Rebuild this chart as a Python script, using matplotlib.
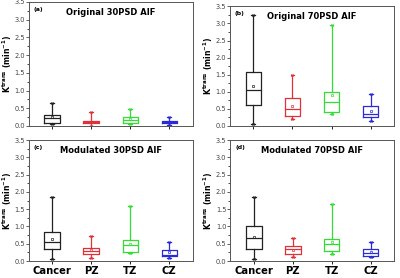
import numpy as np
import matplotlib.pyplot as plt

categories = ['Cancer', 'PZ', 'TZ', 'CZ']
colors = ['#222222', '#e0303a', '#33dd33', '#2a2ad8']
titles = ['Original 30PSD AIF', 'Original 70PSD AIF',
          'Modulated 30PSD AIF', 'Modulated 70PSD AIF']
panel_tags = ['(a)', '(b)', '(c)', '(d)']

# per panel, per category: min, q1, median, q3, max, mean
orig30 = [[0.05, 0.09, 0.21, 0.30, 0.66, 0.25],
          [0.01, 0.07, 0.10, 0.14, 0.38, 0.12],
          [0.05, 0.09, 0.18, 0.25, 0.49, 0.20],
          [0.02, 0.07, 0.10, 0.14, 0.26, 0.10]]
orig70 = [[0.07, 0.62, 1.04, 1.58, 3.26, 1.18],
          [0.19, 0.29, 0.49, 0.82, 1.50, 0.57],
          [0.36, 0.42, 0.70, 0.99, 2.96, 0.92],
          [0.13, 0.27, 0.36, 0.57, 0.94, 0.43]]
mod30 = [[0.06, 0.34, 0.54, 0.84, 1.84, 0.63],
         [0.08, 0.19, 0.29, 0.39, 0.72, 0.33],
         [0.22, 0.27, 0.47, 0.62, 1.59, 0.50],
         [0.10, 0.15, 0.18, 0.33, 0.56, 0.25]]
mod70 = [[0.07, 0.36, 0.68, 1.00, 1.86, 0.70],
         [0.11, 0.21, 0.34, 0.43, 0.66, 0.33],
         [0.21, 0.29, 0.50, 0.65, 1.64, 0.54],
         [0.11, 0.15, 0.22, 0.35, 0.54, 0.25]]
panels = [orig30, orig70, mod30, mod70]

fig = plt.figure(figsize=(4, 2.78), dpi=100)
rects = [[0.072, 0.547, 0.41, 0.446],
         [0.575, 0.547, 0.41, 0.43],
         [0.072, 0.061, 0.41, 0.435],
         [0.576, 0.061, 0.409, 0.435]]

for k, data in enumerate(panels):
    ax = fig.add_axes(rects[k])
    for i, row in enumerate(data):
        st = dict(whislo=row[0], q1=row[1], med=row[2], q3=row[3],
                  whishi=row[4], mean=row[5])
        c = colors[i]
        ax.bxp([st], positions=[i + 1], widths=0.4, showmeans=True,
               showfliers=False, patch_artist=False,
               boxprops=dict(color=c, lw=0.9),
               medianprops=dict(color=c, lw=0.9),
               whiskerprops=dict(color=c, lw=0.9),
               capprops=dict(color=c, lw=0.9),
               capwidths=0.1,
               meanprops=dict(marker='s', markersize=2, markerfacecolor='none',
                              markeredgecolor=c, markeredgewidth=0.5))
        ax.plot([i + 1, i + 1], [row[0], row[4]], ls='none', marker='x',
                ms=1.6, mew=0.6, color=c)
    ax.set_xlim(0.4, 4.6)
    ax.set_ylim(0, 3.5)
    ax.set_yticks(np.arange(0, 3.51, 0.5))
    ax.set_yticks(np.arange(0.25, 3.5, 0.5), minor=True)
    ax.tick_params(axis='y', labelsize=4.8, length=2, width=0.6, colors='#444444', pad=0.8)
    ax.tick_params(axis='y', which='minor', length=1.2, width=0.5)
    ax.tick_params(axis='x', length=2, width=0.6)
    ax.set_xticks(range(1, 5))
    if k >= 2:
        ax.set_xticklabels(categories, fontsize=7.2, fontweight='bold')
        ax.tick_params(axis='x', pad=1.5)
    else:
        ax.set_xticklabels([])
    for sp in ax.spines.values():
        sp.set_linewidth(0.7)
        sp.set_color('#555555')
    ax.set_ylabel(r'$\mathbf{K^{trans}}$ (min$^{\mathbf{-1}}$)', fontsize=5.6,
                  fontweight='bold', labelpad=0.3)
    ax.text(0.03, 0.96, panel_tags[k], transform=ax.transAxes, fontsize=4.5,
            fontweight='bold', va='top')
    ax.text(0.5, 0.95, titles[k], transform=ax.transAxes, fontsize=6,
            fontweight='bold', ha='center', va='top')

fig.savefig('out.png', dpi=100)
